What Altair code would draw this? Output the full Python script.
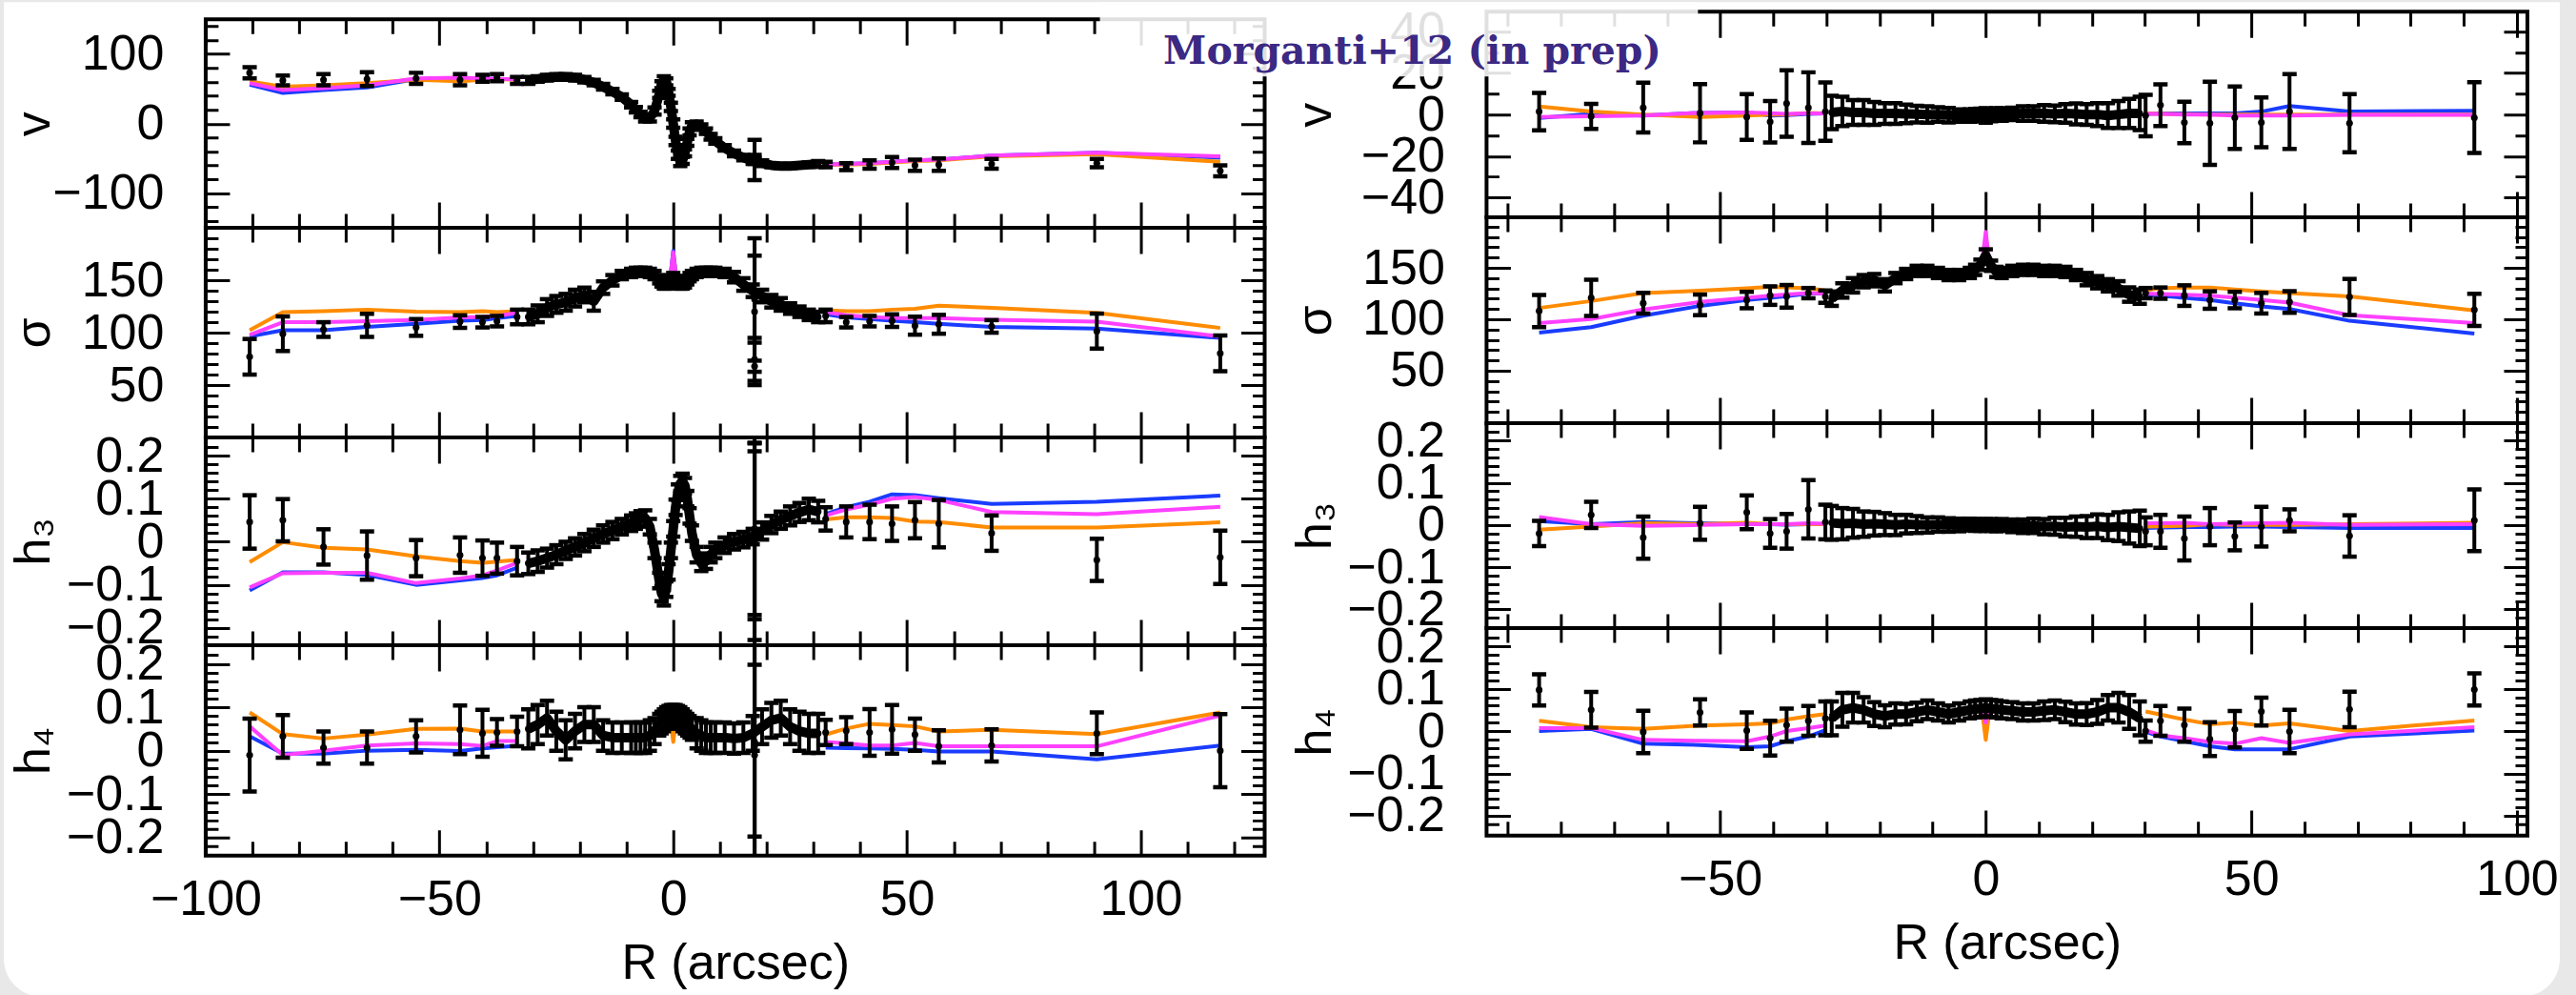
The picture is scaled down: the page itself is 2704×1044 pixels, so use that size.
import altair as alt
import pandas as pd

ORANGE = "#ff8c00"
MAGENTA = "#ff40ff"
BLUE = "#1a3cff"
PURPLE = "#3b2983"
CAP = "M-1,-0.3L1,-0.3L1,0.3L-1,0.3Z"
TITLE_TEXT = ["Morganti+12 (in prep)"]

# ================= LEFT COLUMN =================
L_R_OUT = [-90.6, -83.5, -74.8, -65.5, -55.0, -45.6, -40.8, -37.7, -33.4,
           32.6, 37.0, 42.0, 46.8, 51.7, 56.8, 68.1, 90.6, 117.0]
L_V_OUT = [73, 62, 63, 64, 65, 63, 65, 66, 62, -59, -62, -59, -56, -60, -59, -58, -57, -68]
L_V_OUT_ERR = [8, 7, 8, 10, 8, 8, 5, 5, 5, 4, 5, 6, 8, 8, 9, 7, 6, 8]
L_S_OUT = [77, 99, 103, 107, 105, 110.6, 110, 111, 115, 116, 110, 111, 111.5, 106.7, 108, 106, 101.5, 80.3]
L_S_OUT_ERR = [17, 16.5, 7, 11, 8, 6, 5, 5, 7, 6, 5, 5, 6, 8.6, 9, 6, 16.7, 17]
L_H3_OUT = [0.046, 0.05, -0.012, -0.032, -0.038, -0.031, -0.038, -0.038, -0.045,
            0.053, 0.046, 0.046, 0.042, 0.05, 0.042, 0.02, -0.042, -0.036]
L_H3_OUT_ERR = [0.062, 0.049, 0.041, 0.056, 0.042, 0.041, 0.041, 0.036, 0.033,
                0.027, 0.036, 0.04, 0.04, 0.042, 0.055, 0.041, 0.049, 0.062]
L_H4_OUT = [-0.01, 0.033, 0.007, 0.007, 0.033, 0.048, 0.04, 0.042, 0.044,
            0.042, 0.046, 0.042, 0.049, 0.037, 0.01, 0.012, 0.04, 0.0]
L_H4_OUT_ERR = [0.084, 0.049, 0.037, 0.037, 0.037, 0.056, 0.054, 0.031, 0.034,
                0.029, 0.031, 0.054, 0.056, 0.037, 0.037, 0.037, 0.048, 0.084]

L_R_DENSE = [-31, -29, -27, -25, -23, -21, -19, -17, -15, -13, -11, -9,
             -8, -7, -6, -5, -4, -3,
             -2.5, -2, -1.5, -1, -0.5, 0, 0.5, 1, 1.5, 2, 2.5, 3, 3.5, 4,
             5, 6, 7, 8, 9,
             11, 13, 15, 17, 19, 21, 23, 25, 27, 29, 31]
L_V_DENSE = [62, 64, 66, 67, 67, 66, 63, 59, 53, 46, 38, 27,
             20, 13, 8, 8, 18, 42,
             56, 63, 60, 45, 24, 0, -25, -45, -55, -53, -42, -27, -12, -3,
             -1, -5, -11, -19, -25,
             -35, -43, -49, -54, -57, -60, -61, -61, -60, -59, -58]
L_V_DENSE_ERR = [5, 4, 4, 4, 4, 4, 4, 4, 4, 4, 4, 4,
                 4, 4, 5, 5, 5, 5,
                 5, 5, 5, 5, 6, 6, 6, 6, 6, 5, 5, 5, 5, 5,
                 4, 4, 4, 4, 4,
                 4, 4, 4, 4, 4, 3, 3, 3, 3, 3, 4]
L_S_DENSE = [115, 118, 124, 127, 129, 133, 136, 130, 143, 150, 155, 157,
             158, 158, 158, 157, 155, 151,
             148, 146, 146, 147, 150, 153, 150, 147, 146, 146, 147, 150, 153, 155,
             157, 158, 158, 158, 158,
             157, 153, 146, 140, 135, 130, 127, 123, 120, 117, 115]
L_S_DENSE_ERR = [7, 8, 8, 8, 8, 8, 7, 9, 6, 5, 4, 4,
                 4, 4, 4, 4, 4, 4,
                 4, 4, 4, 4, 4, 4, 4, 4, 4, 4, 4, 4, 4, 4,
                 4, 4, 4, 4, 4,
                 4, 5, 6, 6, 6, 6, 6, 5, 5, 5, 5]
L_H3_DENSE = [-0.05, -0.045, -0.038, -0.03, -0.02, -0.012, -0.002, 0.008, 0.018, 0.026, 0.035, 0.043,
              0.048, 0.053, 0.055, 0.035, -0.02, -0.09,
              -0.12, -0.13, -0.11, -0.07, -0.02, 0.03, 0.08, 0.115, 0.135, 0.14, 0.13, 0.1, 0.06, 0.02,
              -0.03, -0.05, -0.045, -0.03, -0.02,
              -0.008, 0.0, 0.005, 0.012, 0.025, 0.04, 0.05, 0.06, 0.068, 0.075, 0.07]
L_H3_DENSE_ERR = [0.025, 0.025, 0.022, 0.022, 0.02, 0.02, 0.02, 0.02, 0.02, 0.02, 0.018, 0.018,
                  0.018, 0.018, 0.018, 0.018, 0.018, 0.018,
                  0.018, 0.018, 0.018, 0.018, 0.018, 0.018, 0.018, 0.018, 0.018, 0.018, 0.018, 0.018, 0.018, 0.018,
                  0.018, 0.018, 0.018, 0.018, 0.018,
                  0.018, 0.018, 0.018, 0.018, 0.02, 0.02, 0.02, 0.022, 0.022, 0.025, 0.025]
L_H4_DENSE = [0.05, 0.06, 0.075, 0.045, 0.025, 0.045, 0.06, 0.06, 0.035, 0.03, 0.03, 0.03,
              0.03, 0.03, 0.03, 0.035, 0.045, 0.06,
              0.065, 0.07, 0.075, 0.078, 0.08, 0.08, 0.08, 0.078, 0.075, 0.07, 0.065, 0.06, 0.055, 0.05,
              0.04, 0.035, 0.03, 0.03, 0.03,
              0.03, 0.028, 0.03, 0.04, 0.055, 0.07, 0.075, 0.055, 0.045, 0.04, 0.04]
L_H4_DENSE_ERR = [0.045, 0.045, 0.04, 0.045, 0.045, 0.04, 0.04, 0.04, 0.035, 0.035, 0.035, 0.035,
                  0.035, 0.035, 0.035, 0.035, 0.03, 0.025,
                  0.025, 0.025, 0.025, 0.025, 0.025, 0.025, 0.025, 0.025, 0.025, 0.025, 0.025, 0.025, 0.025, 0.025,
                  0.035, 0.035, 0.035, 0.035, 0.035,
                  0.035, 0.035, 0.035, 0.04, 0.04, 0.04, 0.04, 0.04, 0.045, 0.045, 0.045]

# anomalous bin near R = 17 arcsec with very large errors
L_R_BAD = [17.4, 17.4, 17.4, 17.4]
L_V_BAD = [-52.5, -50, -55, -53]
L_V_BAD_ERR = [29, 5, 3, 4]
L_S_BAD = [120, 132, 68, 74.5]
L_S_BAD_ERR = [70, 41.5, 5.3, 20.5]
L_H3_BAD = [0.03, 0.015, 0.0, 0.01]
L_H3_BAD_ERR = [0.2, 0.195, 0.228, 0.3]
L_H4_BAD = [0.0, 0.02, -0.01, 0.01]
L_H4_BAD_ERR = [0.198, 0.3, 0.3, 0.3]

L_R_CENTER = [-0.7, 0, 0.7]
L_V_ORANGE = [60.5, 53, 55, 58, 63, 61, 63, 64, 63, -59, -59, -58, -56, -54, -53, -47, -44, -55]
L_V_MAGENTA = [58, 48, 51, 55, 65, 66, 65, 64, 64, -59, -58, -57, -55, -53, -52, -46, -42, -47]
L_V_BLUE = [56, 44, 48, 52, 64, 65, 65, 64, 64, -59, -58, -57, -55, -53, -52, -46, -42, -49]
L_S_ORANGE = [102.4, 119.7, 120.6, 122, 120, 119.7, 120.6, 119.7, 120.6,
              121.5, 120.6, 120.6, 122, 122.7, 125.8, 123.6, 119, 104.5]
L_S_MAGENTA = [97.9, 110, 110, 111, 112, 114.5, 115, 116, 119,
               119.7, 116.7, 115, 114, 114, 114, 112.4, 110.6, 96.4]
L_S_BLUE = [96.4, 102.4, 102.4, 105.5, 108.5, 111.5, 112, 114, 116,
            117.6, 114.5, 113, 111.5, 110, 108.5, 105.5, 104, 95]
L_S_ORANGE_C = [150, 142, 150]
L_S_MAGENTA_C = [150, 177, 150]
L_S_BLUE_C = [150, 178, 150]
L_H3_ORANGE = [-0.047, -0.001, -0.014, -0.018, -0.034, -0.045, -0.049, -0.046, -0.042,
               0.052, 0.057, 0.057, 0.055, 0.047, 0.046, 0.033, 0.033, 0.045]
L_H3_MAGENTA = [-0.106, -0.073, -0.072, -0.072, -0.096, -0.085, -0.078, -0.067, -0.049,
                0.061, 0.075, 0.086, 0.1, 0.104, 0.097, 0.069, 0.064, 0.081]
L_H3_BLUE = [-0.113, -0.071, -0.071, -0.077, -0.1, -0.09, -0.084, -0.078, -0.06,
             0.064, 0.08, 0.093, 0.11, 0.108, 0.101, 0.088, 0.093, 0.107]
L_H4_ORANGE = [0.088, 0.038, 0.028, 0.037, 0.05, 0.051, 0.044, 0.044, 0.044,
               0.037, 0.051, 0.062, 0.059, 0.056, 0.044, 0.048, 0.038, 0.088]
L_H4_MAGENTA = [0.056, -0.01, 0.0, 0.012, 0.017, 0.015, 0.011, 0.022, 0.022,
                0.02, 0.017, 0.012, 0.012, 0.018, 0.01, 0.01, 0.01, 0.081]
L_H4_BLUE = [0.033, -0.007, -0.007, 0.0, 0.002, -0.001, 0.005, 0.008, 0.011,
             0.007, 0.006, 0.005, 0.004, 0.002, -0.002, -0.002, -0.02, 0.012]
L_H4_ORANGE_C = [0.08, 0.02, 0.08]
L_H4_MAGENTA_C = [0.08, 0.075, 0.08]
L_H4_BLUE_C = [0.08, 0.075, 0.08]

# ================= RIGHT COLUMN =================
R_R_OUT = [-84.1, -74.3, -64.5, -53.8, -45.0, -40.6, -37.5, -33.4, -30.2,
           30.1, 32.9, 37.4, 42.2, 46.9, 51.9, 57.2, 68.5, 92.0]
R_V_OUT = [1.4, -0.9, 3.3, 0.6, -1.2, -3.5, 5.3, 3.3, 1.4, -0.5, 4.5, -3.8, -4.2, -1.5, -3.8, 1.4, -4.2, -1.5]
R_V_OUT_ERR = [9, 6, 12, 14, 11, 10, 16, 17, 14, 10, 10, 10, 20, 15, 12, 18, 14, 17]
R_S_OUT = [108, 120.8, 115.6, 114, 118.7, 123, 122.3, 125.4, 122,
           125.4, 125.4, 123, 118.7, 118.7, 115.6, 116.8, 121.7, 109.2]
R_S_OUT_ERR = [15.6, 17.6, 10, 10, 8, 9, 11, 5, 6, 5, 5.5, 10, 8.5, 8, 10, 10.5, 17.5, 15.6]
R_H3_OUT = [-0.02, 0.024, -0.03, 0.004, 0.03, -0.02, -0.015, 0.037, 0.007,
            -0.015, -0.015, -0.032, -0.004, -0.027, -0.004, 0.011, -0.026, 0.011]
R_H3_OUT_ERR = [0.03, 0.031, 0.05, 0.039, 0.04, 0.034, 0.041, 0.069, 0.041,
                0.033, 0.039, 0.052, 0.044, 0.033, 0.047, 0.026, 0.049, 0.073]
R_H4_OUT = [0.097, 0.05, -0.002, 0.044, 0.001, -0.017, 0.014, 0.024, 0.03,
            0.0, 0.024, 0.014, -0.019, 0.004, 0.046, -0.001, 0.051, 0.098]
R_H4_OUT_ERR = [0.037, 0.042, 0.05, 0.031, 0.043, 0.041, 0.039, 0.035, 0.04,
                0.025, 0.035, 0.039, 0.04, 0.043, 0.033, 0.051, 0.042, 0.038]

R_R_DENSE = [-29, -27, -25, -23, -21, -19, -17, -15, -13, -11, -9, -7, -5, -3,
             -2, -1, 0, 1, 2,
             3, 5, 7, 9, 11, 13, 15, 17, 19, 21, 23, 25, 27, 29]
R_V_DENSE = [1, 1.5, 1, 1, 0.5, 0.5, 0.5, 0.3, 0.2, 0, 0, -0.3, -0.5, -0.5,
             -0.3, -0.2, -0.5, -0.3, 0,
             0, 0.3, 0.5, 0.5, 0.5, 0.3, 0.5, 0.3, 0, 0, -0.5, 0, 0.5, 0.5]
R_V_DENSE_ERR = [8, 7, 6, 6, 5.5, 5, 5, 4.5, 4, 4, 3.5, 3.5, 3, 3,
                 3, 3, 3.5, 3, 3,
                 3, 3, 3.5, 3.5, 4, 4, 4.5, 5, 5, 5.5, 6, 6.5, 7, 8]
R_S_DENSE = [120, 128, 133, 137, 138, 133, 140, 144, 147, 147, 145, 143, 143, 145,
             148, 153, 162, 152, 146,
             145, 147, 148, 148, 147, 147, 146, 143, 139, 136, 133, 130, 124, 122]
R_S_DENSE_ERR = [7, 7, 7, 6, 6, 6, 5, 5, 5, 5, 5, 5, 5, 5,
                 5, 5, 6, 5, 5,
                 5, 5, 5, 5, 5, 5, 5, 5, 6, 6, 6, 7, 7, 7]
R_H3_DENSE = [0.005, 0.003, 0.004, 0.002, 0.003, 0.002, 0.0, 0.002, 0.001, 0.0, 0.001, 0.0, 0.0, 0.001,
              0.0, 0.0, 0.0, 0.0, -0.001,
              0.0, -0.002, -0.003, -0.002, -0.004, -0.003, -0.005, -0.004, -0.005, -0.003, -0.006, -0.004, -0.006, -0.008]
R_H3_DENSE_ERR = [0.04, 0.037, 0.034, 0.03, 0.028, 0.026, 0.024, 0.022, 0.02, 0.018, 0.017, 0.016, 0.015, 0.014,
                  0.014, 0.014, 0.014, 0.014, 0.014,
                  0.014, 0.015, 0.016, 0.017, 0.018, 0.02, 0.022, 0.024, 0.026, 0.028, 0.03, 0.034, 0.038, 0.042]
R_H4_DENSE = [0.03, 0.05, 0.055, 0.05, 0.04, 0.035, 0.04, 0.04, 0.045, 0.05, 0.045, 0.04, 0.045, 0.05,
              0.052, 0.053, 0.055, 0.053, 0.052,
              0.05, 0.048, 0.045, 0.045, 0.048, 0.05, 0.045, 0.04, 0.04, 0.045, 0.055, 0.055, 0.045, 0.03]
R_H4_DENSE_ERR = [0.04, 0.04, 0.035, 0.03, 0.028, 0.026, 0.025, 0.024, 0.022, 0.022, 0.02, 0.02, 0.02, 0.02,
                  0.02, 0.02, 0.02, 0.02, 0.02,
                  0.02, 0.02, 0.02, 0.02, 0.022, 0.022, 0.024, 0.025, 0.026, 0.028, 0.03, 0.035, 0.04, 0.04]

R_R_CENTER = [-0.75, 0, 0.75]
R_V_ORANGE = [3.8, 1.4, 0, -1.2, -0.5, 0, 0, 0.8, 0.5, 0.5, 0.3, 0.2, 0, 0, 0, 0, 0, -0.1]
R_V_MAGENTA = [-1.2, -0.9, -0.5, 0.8, 1, 0.6, 0.3, 0.5, 0.5, 0.3, 0.3, 0, 0, -0.5, -0.5, -0.5, -0.2, -0.2]
R_V_BLUE = [-1.7, 0.3, -0.5, 0.8, 1, -0.5, -0.3, 0.3, 0.5, 0.3, 0.5, 0.5, 0.5, 0.5, 1.4, 4.1, 1.4, 1.8]
R_S_ORANGE = [111, 117.7, 125.4, 127.8, 130, 131.5, 131, 130, 128,
              128.4, 130, 130.9, 130.9, 129, 127, 125.4, 122.3, 108.6]
R_S_MAGENTA = [96.3, 100.3, 109.5, 116.8, 120.8, 123, 124, 125.4, 125,
               125, 124.5, 123.9, 123, 121, 118.7, 116.2, 104, 96.3]
R_S_BLUE = [87, 92.4, 103.4, 113, 118.7, 120.8, 122.5, 125, 125,
            124, 123, 120.8, 118.7, 115.6, 112.5, 110, 98.5, 86.2]
R_S_ORANGE_C = [153, 160, 152]
R_S_MAGENTA_C = [153, 185, 152]
R_S_BLUE_C = [153, 172, 152]
R_H3_ORANGE = [-0.011, -0.004, 0.004, 0.002, 0.005, 0.002, 0.002, 0.002, 0.002,
               -0.004, -0.003, -0.002, 0.002, 0.0, 0.0, 0.0, 0.002, 0.005]
R_H3_MAGENTA = [0.019, 0.002, -0.002, 0.0, 0.002, 0.002, 0.002, 0.004, 0.003,
                0.004, 0.004, 0.005, 0.002, 0.003, 0.004, 0.005, 0.0, 0.002]
R_H3_BLUE = [0.009, 0.002, 0.007, 0.004, 0.002, 0.002, 0.001, 0.002, 0.002,
             -0.007, -0.006, -0.005, -0.005, -0.004, -0.004, -0.005, -0.007, -0.007]
R_H4_ORANGE = [0.024, 0.009, 0.005, 0.013, 0.016, 0.018, 0.027, 0.035, 0.04,
               0.046, 0.039, 0.027, 0.016, 0.02, 0.013, 0.018, 0.0, 0.025]
R_H4_MAGENTA = [0.007, 0.007, -0.021, -0.023, -0.024, -0.013, 0.0, 0.007, 0.013,
                0.002, -0.01, -0.017, -0.026, -0.03, -0.017, -0.028, -0.008, 0.009]
R_H4_BLUE = [0.0, 0.005, -0.03, -0.033, -0.038, -0.036, -0.024, -0.013, 0.002,
             -0.002, -0.013, -0.024, -0.036, -0.043, -0.043, -0.043, -0.013, 0.001]
R_H4_ORANGE_C = [0.053, -0.021, 0.053]
R_H4_MAGENTA_C = [0.053, 0.02, 0.053]
R_H4_BLUE_C = [0.053, 0.045, 0.053]

# ticks
L_X_MAJOR = [-100, -50, 0, 50, 100]
L_X_MINOR = [-90, -80, -70, -60, -40, -30, -20, -10, 10, 20, 30, 40, 60, 70, 80, 90, 110, 120]
R_X_MAJOR = [-50, 0, 50, 100]
R_X_MINOR = [-90, -80, -70, -60, -40, -30, -20, -10, 10, 20, 30, 40, 60, 70, 80, 90]
V_L_MAJOR = [-100, 0, 100]
V_L_MINOR = [-140, -120, -80, -60, -40, -20, 20, 40, 60, 80, 120, 140]
S_MAJOR = [50, 100, 150]
S_MINOR = [10, 20, 30, 40, 60, 70, 80, 90, 110, 120, 130, 140, 160, 170, 180, 190]
H_MAJOR = [-0.2, -0.1, 0, 0.1, 0.2]
H_MINOR = [-0.22, -0.18, -0.16, -0.14, -0.12, -0.08, -0.06, -0.04, -0.02,
           0.02, 0.04, 0.06, 0.08, 0.12, 0.14, 0.16, 0.18, 0.22]
V_R_MAJOR = [-40, -20, 0, 20, 40]
V_R_MINOR = [-30, -10, 10, 30]

FONT = "Liberation Sans"


def obs_frame(parts):
    rows = []
    for R, V, E in parts:
        for r, v, e in zip(R, V, E):
            rows.append({"R": r, "val": v, "lo": v - e, "hi": v + e})
    return pd.DataFrame(rows)


def model_frame(R_out, R_c, series):
    rows = []
    for name, outer, center in series:
        for i, (r, v) in enumerate(zip(R_out, outer)):
            rows.append({"R": r, "val": v, "model": name, "seg": "L" if i < 9 else "R"})
        for r, v in zip(R_c, center):
            rows.append({"R": r, "val": v, "model": name, "seg": "C"})
    return pd.DataFrame(rows)


def panel(obs, dense, models, W, H, xdom, ydom, xmaj, xmin, ymaj, ymin,
          ytitle, fmt, bottom, extra=()):
    xs = alt.Scale(domain=xdom, nice=False, zero=False)
    ys = alt.Scale(domain=ydom, nice=False, zero=False)
    grid_common = dict(grid=True, gridColor="black", gridWidth=3, gridOpacity=1,
                       domain=False, ticks=False, zindex=0)
    xkw = dict(orient="bottom", values=xmaj, gridDash=[27, H - 54, 27],
               labels=bottom, labelFlush=False, labelOverlap=False,
               labelPadding=21, titlePadding=16, minExtent=0, **grid_common)
    ykw = dict(orient="left", values=ymaj, format=fmt, gridDash=[25, W - 50, 25],
               labelPadding=44, labelOverlap=False, minExtent=130, maxExtent=130,
               titlePadding=23, **grid_common)
    x_major = alt.X("R:Q", scale=xs, axis=alt.Axis(**xkw),
                    title="R (arcsec)" if bottom else None)
    y_major = alt.Y("val:Q", scale=ys, axis=alt.Axis(**ykw), title=ytitle)
    x_minor = alt.X("R:Q", scale=xs, title=None, axis=alt.Axis(
        orient="top", values=xmin, gridDash=[15, H - 30, 15], labels=False,
        minExtent=0, maxExtent=0, **grid_common))
    y_minor = alt.Y("val:Q", scale=ys, title=None, axis=alt.Axis(
        orient="right", values=ymin, gridDash=[13, W - 26, 13], labels=False,
        minExtent=0, maxExtent=0, **grid_common))
    X = alt.X("R:Q", scale=xs, axis=None)
    Y = alt.Y("val:Q", scale=ys, axis=None)
    LO = alt.Y("lo:Q", scale=ys, axis=None)
    HI = alt.Y("hi:Q", scale=ys, axis=None)
    base = alt.Chart(obs)
    dch = alt.Chart(dense)
    layers = [
        base.mark_point(opacity=0).encode(x=x_major, y=y_major),
        base.mark_point(opacity=0).encode(x=x_minor, y=y_minor),
    ]
    for name, col in [("blue", BLUE), ("orange", ORANGE), ("magenta", MAGENTA)]:
        layers.append(
            alt.Chart(models).transform_filter(alt.datum.model == name)
            .mark_line(color=col, strokeWidth=4, clip=True, strokeJoin="round")
            .encode(x=X, y=Y, detail="seg:N", order="R:Q"))
    layers += [
        dch.mark_area(color="black", opacity=1, clip=True).encode(x=X, y=LO, y2="hi:Q", order="R:Q"),
        dch.mark_line(color="black", strokeWidth=10, clip=True, strokeJoin="round").encode(x=X, y=Y, order="R:Q"),
        base.mark_rule(color="black", strokeWidth=4, clip=True).encode(x=X, y=LO, y2="hi:Q"),
        base.mark_point(shape=CAP, size=225, filled=True, color="black", opacity=1, clip=True).encode(x=X, y=LO),
        base.mark_point(shape=CAP, size=225, filled=True, color="black", opacity=1, clip=True).encode(x=X, y=HI),
        base.mark_point(shape="circle", size=50, filled=True, color="black", opacity=1, clip=True).encode(x=X, y=Y),
    ]
    layers += list(extra)
    return alt.layer(*layers).resolve_axis(x="independent", y="independent").properties(width=W, height=H)


LW = 1112
LH = [219, 220, 218, 221]
LX = [-100, 126.5]
RW = 1093
RH = [216, 216, 215, 218]
RX = [-94, 102]

L_OBS = [
    obs_frame([(L_R_OUT, L_V_OUT, L_V_OUT_ERR), (L_R_DENSE, L_V_DENSE, L_V_DENSE_ERR), (L_R_BAD, L_V_BAD, L_V_BAD_ERR)]),
    obs_frame([(L_R_OUT, L_S_OUT, L_S_OUT_ERR), (L_R_DENSE, L_S_DENSE, L_S_DENSE_ERR), (L_R_BAD, L_S_BAD, L_S_BAD_ERR)]),
    obs_frame([(L_R_OUT, L_H3_OUT, L_H3_OUT_ERR), (L_R_DENSE, L_H3_DENSE, L_H3_DENSE_ERR), (L_R_BAD, L_H3_BAD, L_H3_BAD_ERR)]),
    obs_frame([(L_R_OUT, L_H4_OUT, L_H4_OUT_ERR), (L_R_DENSE, L_H4_DENSE, L_H4_DENSE_ERR), (L_R_BAD, L_H4_BAD, L_H4_BAD_ERR)]),
]
L_DENSE = [
    obs_frame([(L_R_DENSE, L_V_DENSE, L_V_DENSE_ERR)]),
    obs_frame([(L_R_DENSE, L_S_DENSE, L_S_DENSE_ERR)]),
    obs_frame([(L_R_DENSE, L_H3_DENSE, L_H3_DENSE_ERR)]),
    obs_frame([(L_R_DENSE, L_H4_DENSE, L_H4_DENSE_ERR)]),
]
L_MOD = [
    model_frame(L_R_OUT, [], [("orange", L_V_ORANGE, []), ("magenta", L_V_MAGENTA, []), ("blue", L_V_BLUE, [])]),
    model_frame(L_R_OUT, L_R_CENTER, [("orange", L_S_ORANGE, L_S_ORANGE_C), ("magenta", L_S_MAGENTA, L_S_MAGENTA_C), ("blue", L_S_BLUE, L_S_BLUE_C)]),
    model_frame(L_R_OUT, [], [("orange", L_H3_ORANGE, []), ("magenta", L_H3_MAGENTA, []), ("blue", L_H3_BLUE, [])]),
    model_frame(L_R_OUT, L_R_CENTER, [("orange", L_H4_ORANGE, L_H4_ORANGE_C), ("magenta", L_H4_MAGENTA, L_H4_MAGENTA_C), ("blue", L_H4_BLUE, L_H4_BLUE_C)]),
]
R_OBS = [
    obs_frame([(R_R_OUT, R_V_OUT, R_V_OUT_ERR), (R_R_DENSE, R_V_DENSE, R_V_DENSE_ERR)]),
    obs_frame([(R_R_OUT, R_S_OUT, R_S_OUT_ERR), (R_R_DENSE, R_S_DENSE, R_S_DENSE_ERR)]),
    obs_frame([(R_R_OUT, R_H3_OUT, R_H3_OUT_ERR), (R_R_DENSE, R_H3_DENSE, R_H3_DENSE_ERR)]),
    obs_frame([(R_R_OUT, R_H4_OUT, R_H4_OUT_ERR), (R_R_DENSE, R_H4_DENSE, R_H4_DENSE_ERR)]),
]
R_DENSE = [
    obs_frame([(R_R_DENSE, R_V_DENSE, R_V_DENSE_ERR)]),
    obs_frame([(R_R_DENSE, R_S_DENSE, R_S_DENSE_ERR)]),
    obs_frame([(R_R_DENSE, R_H3_DENSE, R_H3_DENSE_ERR)]),
    obs_frame([(R_R_DENSE, R_H4_DENSE, R_H4_DENSE_ERR)]),
]
R_MOD = [
    model_frame(R_R_OUT, [], [("orange", R_V_ORANGE, []), ("magenta", R_V_MAGENTA, []), ("blue", R_V_BLUE, [])]),
    model_frame(R_R_OUT, R_R_CENTER, [("orange", R_S_ORANGE, R_S_ORANGE_C), ("magenta", R_S_MAGENTA, R_S_MAGENTA_C), ("blue", R_S_BLUE, R_S_BLUE_C)]),
    model_frame(R_R_OUT, [], [("orange", R_H3_ORANGE, []), ("magenta", R_H3_MAGENTA, []), ("blue", R_H3_BLUE, [])]),
    model_frame(R_R_OUT, R_R_CENTER, [("orange", R_H4_ORANGE, R_H4_ORANGE_C), ("magenta", R_H4_MAGENTA, R_H4_MAGENTA_C), ("blue", R_H4_BLUE, R_H4_BLUE_C)]),
]

# overlay: white veil and the annotation text (pixel offsets relative to the right top panel)
title_df = pd.DataFrame({"label": TITLE_TEXT})
veil = alt.Chart(title_df).mark_rect(color="white", opacity=0.88).encode(
    x=alt.value(-406), x2=alt.value(222), y=alt.value(-10), y2=alt.value(68))
title_mark = alt.Chart(title_df).mark_text(
    font="DejaVu Serif", fontSize=41, fontWeight="bold", color=PURPLE,
    align="center", baseline="alphabetic").encode(
    x=alt.value(-78), y=alt.value(55), text="label:N")

spec_l = [
    (V_L_MAJOR, V_L_MINOR, [-150, 150], "v", "d"),
    (S_MAJOR, S_MINOR, [0, 200], "σ", "d"),
    (H_MAJOR, H_MINOR, [-0.24, 0.242], "h₃", ".1~f"),
    (H_MAJOR, H_MINOR, [-0.242, 0.243], "h₄", ".1~f"),
]
spec_r = [
    (V_R_MAJOR, V_R_MINOR, [-49.5, 49.5], "v", "d"),
    (S_MAJOR, S_MINOR, [-1, 199], "σ", "d"),
    (H_MAJOR, H_MINOR, [-0.244, 0.241], "h₃", ".1~f"),
    (H_MAJOR, H_MINOR, [-0.247, 0.243], "h₄", ".1~f"),
]

# slide-like white card behind everything (spacer origin is at page x=216, y=10)
card = alt.Chart(title_df).mark_rect(
    color="white", cornerRadiusBottomLeft=40, cornerRadiusBottomRight=40).encode(
    x=alt.value(-212), x2=alt.value(2472), y=alt.value(-10), y2=alt.value(1034))
spacer = alt.layer(
    card,
    alt.Chart(title_df).mark_point(opacity=0).encode(x=alt.value(0), y=alt.value(0)),
).properties(width=LW, height=8, view=alt.ViewBackground(strokeOpacity=0))

left_panels = [spacer]
for i in range(4):
    ymaj, ymin, ydom, yt, fmt = spec_l[i]
    left_panels.append(panel(L_OBS[i], L_DENSE[i], L_MOD[i], LW, LH[i], LX, ydom,
                             L_X_MAJOR, L_X_MINOR, ymaj, ymin, yt, fmt, i == 3))
right_panels = []
for i in range(4):
    ymaj, ymin, ydom, yt, fmt = spec_r[i]
    right_panels.append(panel(R_OBS[i], R_DENSE[i], R_MOD[i], RW, RH[i], RX, ydom,
                              R_X_MAJOR, R_X_MINOR, ymaj, ymin, yt, fmt, i == 3,
                              extra=[veil, title_mark] if i == 0 else ()))

left_col = alt.vconcat(*left_panels, spacing=0, bounds="flush")
right_col = alt.vconcat(*right_panels, spacing=0, bounds="flush")

chart = alt.hconcat(left_col, right_col, spacing=1345, bounds="flush").properties(
    padding={"left": 4, "top": 0, "right": 16, "bottom": 0},
    background="#e8e8e8",
).configure_view(stroke="black", strokeWidth=4).configure_axis(
    labelFont=FONT, titleFont=FONT, labelFontSize=52, titleFontSize=52,
    titleFontWeight="normal", labelColor="black", titleColor="black",
)

chart.save("out.html", embed_options={"renderer": "svg", "actions": False})
